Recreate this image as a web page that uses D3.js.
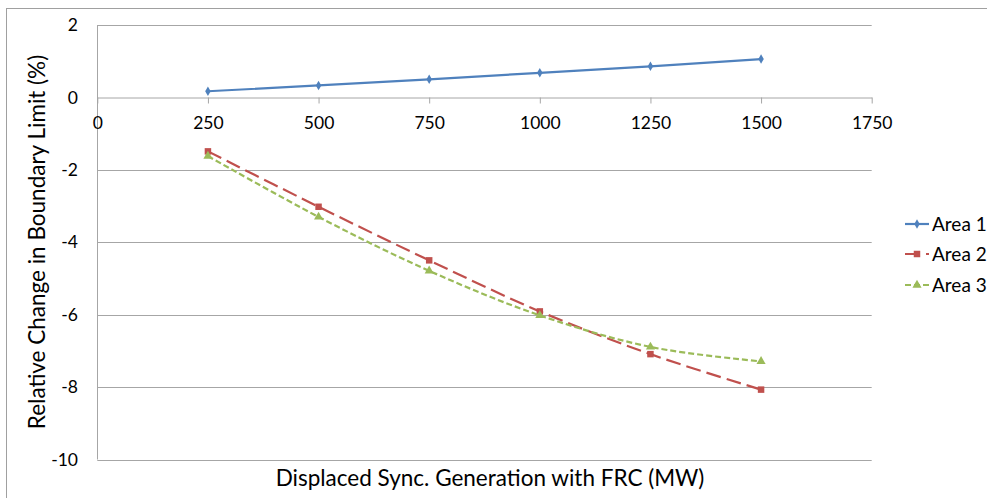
<!DOCTYPE html>
<html>
<head>
<meta charset="utf-8">
<script src="https://cdn.jsdelivr.net/npm/d3@7"></script>
<style>
  html, body { margin: 0; padding: 0; background: #fff; }
  svg { display: block; font-family: "Lato", "Open Sans", sans-serif; }
</style>
</head>
<body>
<svg id="chart" width="987" height="498"></svg>
<script>
// Displaced synchronous generation (MW)
const generation = [250, 500, 750, 1000, 1250, 1500];
// Relative change in boundary limit (%)
const area1 = [0.17, 0.33, 0.50, 0.68, 0.86, 1.06];
const area2 = [-1.49, -3.02, -4.50, -5.91, -7.09, -8.07];
const area3 = [-1.62, -3.30, -4.79, -6.02, -6.89, -7.29];
const seriesNames = ["Area 1", "Area 2", "Area 3"];
const xTicks = [0, 250, 500, 750, 1000, 1250, 1500, 1750];
const yTicks = [2, 0, -2, -4, -6, -8, -10];

const svg = d3.select("#chart");
const W = 987, H = 498;
const plot = { left: 97.3, right: 871.7, top: 25, bottom: 459.5 };

const x = d3.scaleLinear().domain([0, 1750]).range([plot.left, plot.right]);
const y = d3.scaleLinear().domain([-10, 2]).range([plot.bottom, plot.top]);

const gridColor = "#a6a6a6";
const textColor = "#000";
const tickFont = 17.5;

// outer chart frame
svg.append("rect")
  .attr("x", 6.5).attr("y", 8.5)
  .attr("width", W + 10).attr("height", H + 10)
  .attr("fill", "none").attr("stroke", "#a0a0a0").attr("stroke-width", 1);

// horizontal gridlines
svg.append("g")
  .selectAll("line")
  .data(yTicks.filter(v => v !== 0))
  .join("line")
  .attr("x1", plot.left).attr("x2", plot.right)
  .attr("y1", d => Math.round(y(d)) + 0.5).attr("y2", d => Math.round(y(d)) + 0.5)
  .attr("stroke", gridColor).attr("stroke-width", 1);

// vertical axis line (at x = 0)
svg.append("line")
  .attr("x1", Math.round(x(0)) + 0.5).attr("x2", Math.round(x(0)) + 0.5)
  .attr("y1", plot.top).attr("y2", plot.bottom)
  .attr("stroke", gridColor);

// y tick labels
svg.append("g")
  .selectAll("text")
  .data(yTicks)
  .join("text")
  .attr("x", 78).attr("y", d => y(d))
  .attr("dy", "0.35em")
  .attr("text-anchor", "end")
  .attr("font-size", tickFont)
  .attr("fill", textColor)
  .text(d => d);

// horizontal axis crossing at y = 0
const xAxis = d3.axisBottom(x).tickValues(xTicks).tickSizeOuter(0).tickSizeInner(6).tickPadding(13)
  .tickFormat(d3.format("d"));
const gx = svg.append("g")
  .attr("transform", `translate(0,${Math.round(y(0)) + 0.5})`)
  .call(xAxis);
gx.select(".domain").attr("stroke", gridColor);
gx.selectAll(".tick line").attr("stroke", gridColor);
gx.selectAll(".tick text").attr("font-size", tickFont).attr("fill", textColor)
  .attr("font-family", "Lato, 'Open Sans', sans-serif");

// axis titles
svg.append("text")
  .attr("x", 490).attr("y", 478).attr("dy", "0.35em")
  .attr("text-anchor", "middle")
  .attr("font-size", 22.5)
  .attr("fill", textColor)
  .text("Displaced Sync. Generation with FRC (MW)");

svg.append("text")
  .attr("transform", `translate(37,242) rotate(-90)`)
  .attr("dy", "0.35em")
  .attr("text-anchor", "middle")
  .attr("font-size", 22.5)
  .attr("fill", textColor)
  .text("Relative Change in Boundary Limit (%)");

// series
const series = [
  { name: seriesNames[0], values: area1, color: "#4f81bd", dash: null, marker: "diamond", curve: d3.curveLinear },
  { name: seriesNames[1], values: area2, color: "#c0504d", dash: "15,6", marker: "square", curve: d3.curveCatmullRom.alpha(0) },
  { name: seriesNames[2], values: area3, color: "#9bbb59", dash: "6,3", marker: "triangle", curve: d3.curveCatmullRom.alpha(0) }
];

const symbolFor = {
  diamond: d3.symbol().type(d3.symbolDiamond).size(26),
  square: d3.symbol().type(d3.symbolSquare).size(42),
  triangle: d3.symbol().type(d3.symbolTriangle).size(36)
};

series.forEach(s => {
  const pts = generation.map((g, i) => [x(g), y(s.values[i])]);
  const line = d3.line().curve(s.curve);
  svg.append("path")
    .attr("d", line(pts))
    .attr("fill", "none")
    .attr("stroke", s.color)
    .attr("stroke-width", 2.2)
    .attr("stroke-dasharray", s.dash);
  svg.append("g")
    .selectAll("path")
    .data(pts)
    .join("path")
    .attr("transform", d => `translate(${d[0]},${d[1]})`)
    .attr("d", symbolFor[s.marker]())
    .attr("fill", s.color);
});

// legend
const legendY = [224, 254, 285];
series.forEach((s, i) => {
  const g = svg.append("g").attr("transform", `translate(905,${legendY[i]})`);
  g.append("line")
    .attr("x1", 0).attr("x2", 24).attr("y1", 0).attr("y2", 0)
    .attr("stroke", s.color).attr("stroke-width", 2.2)
    .attr("stroke-dasharray", s.dash);
  g.append("path")
    .attr("transform", "translate(12,0)")
    .attr("d", symbolFor[s.marker]())
    .attr("fill", s.color);
  g.append("text")
    .attr("x", 27).attr("dy", "0.35em")
    .attr("font-size", 19)
    .attr("fill", textColor)
    .text(s.name);
});
</script>
</body>
</html>
